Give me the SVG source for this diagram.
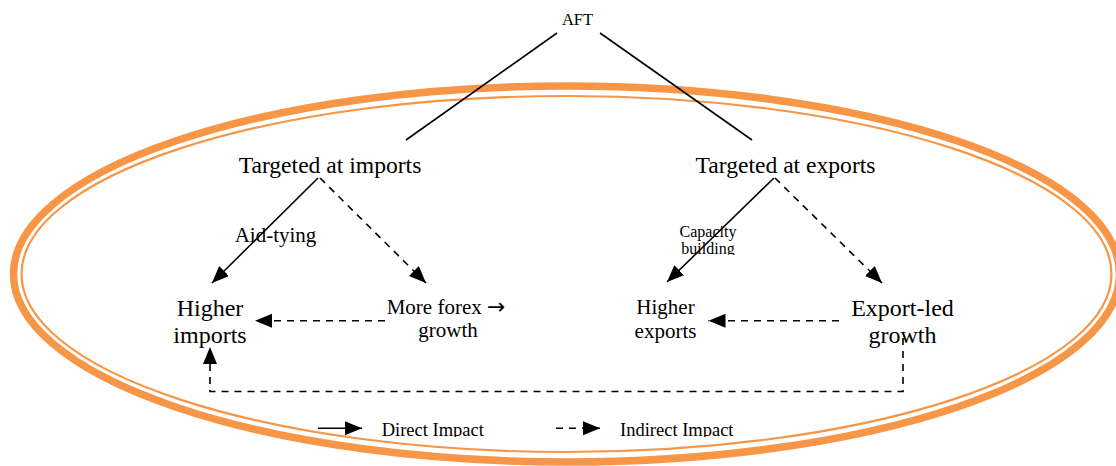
<svg xmlns="http://www.w3.org/2000/svg" width="1116" height="466" viewBox="0 0 1116 466">
  <style>
    text { font-family: "Liberation Serif", "Times New Roman", serif; fill: #000; }
    .c { text-anchor: middle; }
    .ln { fill: none; stroke: #000; stroke-width: 1.6; }
    .dash { stroke-dasharray: 7 6; }
    .thick { fill: none; stroke: #F79646; stroke-width: 7.5; }
    .thin { fill: none; stroke: #F79646; stroke-width: 2.2; }
  </style>
  <defs>
    <marker id="ah" markerUnits="userSpaceOnUse" markerWidth="18" markerHeight="15" refX="17" refY="7" orient="auto">
      <path d="M0,0 L17,7 L0,14 z" fill="#000"/>
    </marker>
    <clipPath id="clipCap"><rect x="660" y="215" width="100" height="40"/></clipPath>
    <clipPath id="clipLeg"><rect x="370" y="405" width="400" height="32"/></clipPath>
  </defs>
  <rect width="1116" height="466" fill="#fff"/>

  <g id="frame">
    <ellipse class="thick" cx="566.5" cy="274" rx="553" ry="188"/>
    <ellipse class="thin" cx="566.5" cy="274" rx="545" ry="178"/>
  </g>

  <g id="connectors">
    <line class="ln" x1="557" y1="33" x2="406" y2="140"/>
    <line class="ln" x1="600" y1="33" x2="752" y2="140"/>
    <line class="ln" x1="318" y1="178" x2="212" y2="283" marker-end="url(#ah)"/>
    <line class="ln dash" x1="320" y1="178" x2="426" y2="283" marker-end="url(#ah)"/>
    <line class="ln dash" x1="385" y1="320.7" x2="255" y2="320.7" marker-end="url(#ah)"/>
    <polyline class="ln dash" points="903,338 903,391.5 210,391.5 210,347" marker-end="url(#ah)"/>
    <line class="ln" x1="774" y1="178" x2="667" y2="282" marker-end="url(#ah)"/>
    <line class="ln dash" x1="775" y1="178" x2="882" y2="283" marker-end="url(#ah)"/>
    <line class="ln dash" x1="839" y1="320.7" x2="708.5" y2="320.7" marker-end="url(#ah)"/>
  </g>

  <g id="node-aft"><text class="c" x="577.5" y="25" font-size="16.5">AFT</text></g>
  <g id="node-imports"><text class="c" x="330" y="173" font-size="23.6">Targeted at imports</text></g>
  <g id="node-exports"><text class="c" x="785.5" y="173" font-size="23.6">Targeted at exports</text></g>
  <g id="node-higher-imports">
    <text class="c" x="210" y="316" font-size="24">Higher</text>
    <text class="c" x="210" y="343" font-size="24">imports</text>
  </g>
  <g id="node-forex">
    <text x="386.7" y="314" font-size="21">More forex <tspan font-family="DejaVu Sans, sans-serif" font-size="22">→</tspan></text>
    <text class="c" x="448" y="337" font-size="21">growth</text>
  </g>
  <g id="node-higher-exports">
    <text class="c" x="665.5" y="314" font-size="21">Higher</text>
    <text class="c" x="665.5" y="338" font-size="21">exports</text>
  </g>
  <g id="node-export-led">
    <text class="c" x="902.5" y="315.5" font-size="24">Export-led</text>
    <text class="c" x="902.5" y="343" font-size="24">growth</text>
  </g>
  <g id="label-aid"><text class="c" x="275.5" y="242" font-size="21">Aid-tying</text></g>
  <g id="label-capacity" clip-path="url(#clipCap)">
    <text class="c" x="708" y="237" font-size="16">Capacity</text>
    <text class="c" x="708" y="254" font-size="16">building</text>
  </g>

  <g id="legend">
    <line class="ln" x1="318" y1="428.3" x2="362" y2="428.3" marker-end="url(#ah)"/>
    <line class="ln dash" x1="556" y1="428.3" x2="600" y2="428.3" marker-end="url(#ah)"/>
    <g clip-path="url(#clipLeg)">
      <text x="381.7" y="436" font-size="18.5">Direct Impact</text>
      <text x="620" y="436" font-size="18.5">Indirect Impact</text>
    </g>
  </g>
</svg>
